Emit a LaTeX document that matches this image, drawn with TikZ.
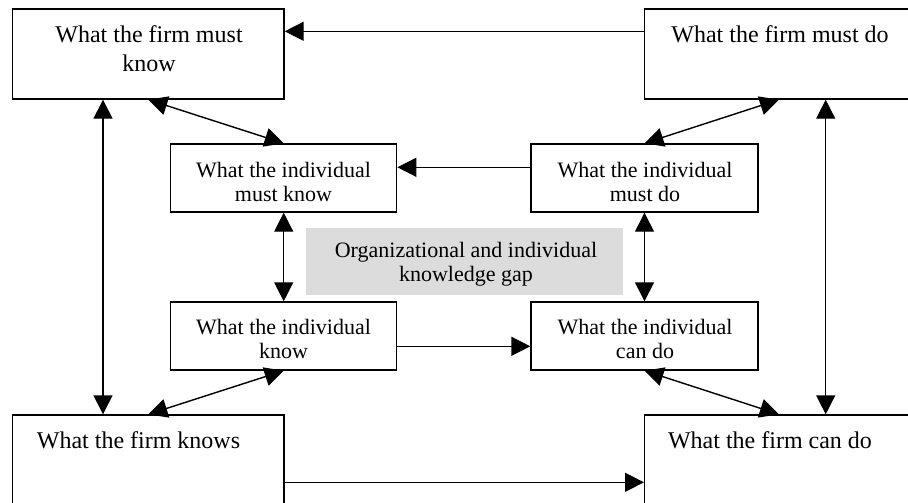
\documentclass[tikz,border=0pt]{standalone}
\usepackage{fontspec}
\setmainfont{Liberation Serif}
\usetikzlibrary{arrows.meta}
\definecolor{gapgray}{RGB}{220,220,220}
\begin{document}
\begin{tikzpicture}[x=1pt,y=-1pt,
  box/.style={draw=black,line width=1.4pt,rectangle,inner sep=0pt},
  firmbox/.style={box,minimum height=90pt},
  indbox/.style={box,minimum width=226pt,minimum height=68pt},
  firmtext/.style={inner sep=0pt,anchor=north,align=center,font=\fontsize{24}{29}\selectfont},
  indtext/.style={inner sep=0pt,anchor=north,align=center,font=\fontsize{22}{24}\selectfont},
  arr/.style={line width=1.4pt,-{Triangle[length=19pt,width=19pt]}},
  darr/.style={line width=1.4pt,{Triangle[length=19pt,width=19pt]}-{Triangle[length=19pt,width=19pt]}}
]
\useasboundingbox (0,0) rectangle (908,503);
\clip (0,0) rectangle (908,503);

% firm level boxes
\node[firmbox,minimum width=271.3pt] (fmk) at (148.35,54) {};
\node[firmbox,minimum width=268.3pt] (fmd) at (778.85,54) {};
\node[box,minimum width=271.3pt,minimum height=100pt] (fk) at (148.35,465) {};
\node[box,minimum width=268.3pt,minimum height=100pt] (fcd) at (778.85,465) {};

% individual level boxes
\node[indbox] (imk) at (283.7,178) {};
\node[indbox,minimum width=227pt] (imd) at (644.5,178) {};
\node[indbox] (ik) at (283.7,336) {};
\node[indbox,minimum width=227pt] (icd) at (644.5,336) {};

% shaded gap label
\node[fill=gapgray,minimum width=317pt,minimum height=67pt,inner sep=0pt] (gap) at (464.5,261.5) {};

% texts
\node[firmtext] (tfmk) at (149,25.1) {What the firm must\\know};
\node[firmtext] (tfmd) at (780,25.6) {What the firm must do};
\node[firmtext] (tfk) at (138.5,431.6) {What the firm knows};
\node[firmtext] (tfcd) at (770,431.6) {What the firm can do};
\node[indtext] (timk) at (283.5,162) {What the individual\\must know};
\node[indtext] (timd) at (645,162) {What the individual\\must do};
\node[indtext] (tik) at (283.5,319.3) {What the individual\\know};
\node[indtext] (ticd) at (645,319.3) {What the individual\\can do};
\node[indtext] (tgap) at (466,242) {Organizational and individual\\knowledge gap};

% horizontal connectors
\draw[arr] ([yshift=-23pt]fmd.north west) -- ([yshift=-23pt]fmk.north east);
\draw[arr] ([yshift=-24pt]imd.north west) -- ([yshift=-24pt]imk.north east);
\draw[arr] ([yshift=-45pt]ik.north east) -- ([yshift=-45pt]icd.north west);
\draw[arr] ([yshift=-68pt]fk.north east) -- ([yshift=-68pt]fcd.north west);

% vertical connectors
\draw[darr] ([xshift=-45.35pt]fmk.south) -- ([xshift=-45.35pt]fk.north);
\draw[darr] ([xshift=46.85pt]fmd.south) -- ([xshift=46.85pt]fcd.north);
\draw[darr] (imk.south) -- (ik.north);
\draw[darr] (imd.south) -- (icd.north);

% diagonal connectors
\draw[darr] (fmk.south) -- (imk.north);
\draw[darr] (fmd.south) -- (imd.north);
\draw[darr] (ik.south) -- (fk.north);
\draw[darr] (icd.south) -- (fcd.north);
\end{tikzpicture}
\end{document}
